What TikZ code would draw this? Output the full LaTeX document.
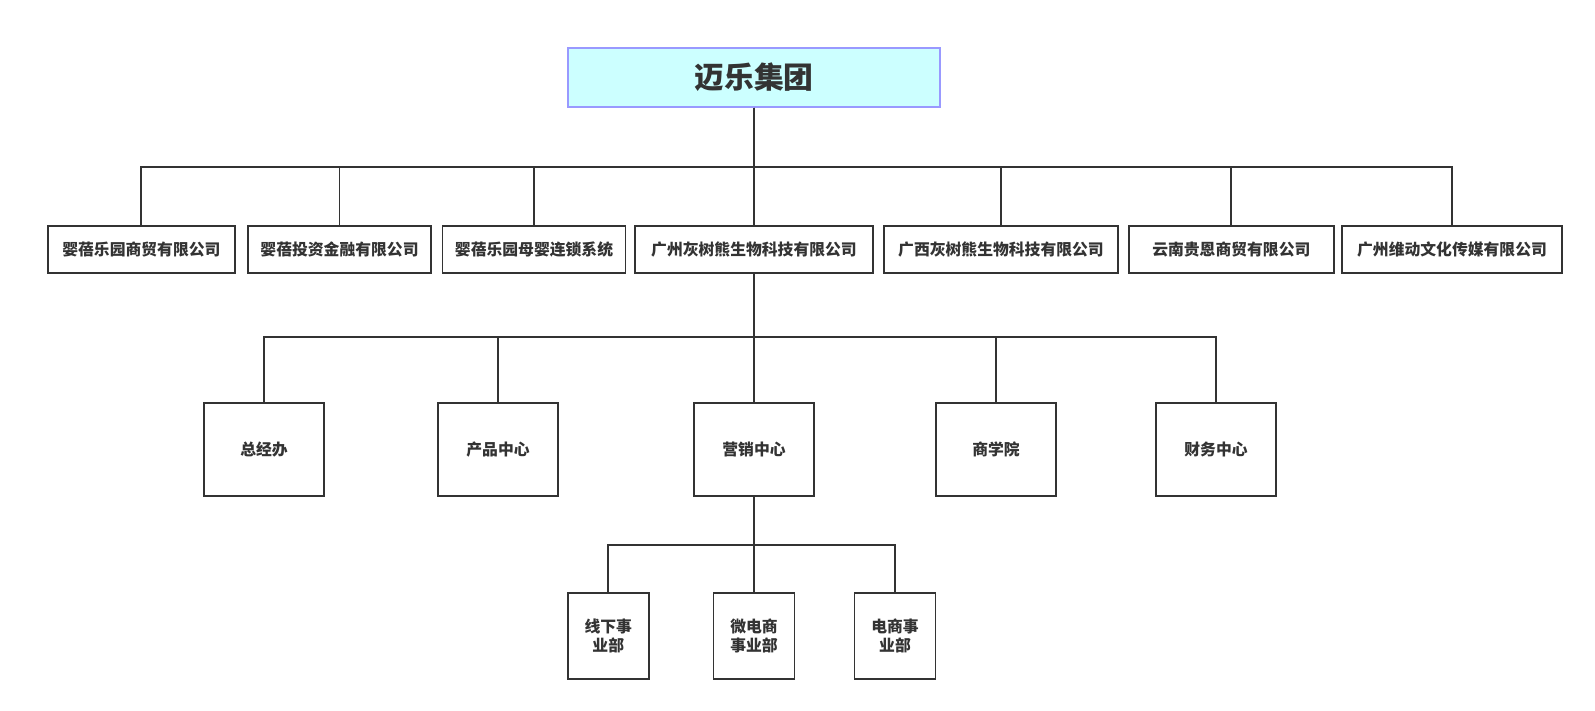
\documentclass[tikz,border=0pt]{standalone}
\usepackage{fontspec}
\newfontfamily\cjk{Noto Sans CJK SC}
\usepackage{xcolor}
\usepackage{tikz}
\usetikzlibrary{positioning, calc}
\definecolor{inkgray}{HTML}{333333}
\definecolor{topfill}{HTML}{CCFFFF}
\definecolor{topline}{HTML}{9999FF}
\tikzset{
  unit/.style={draw=inkgray, line width=1.1pt, fill=white, text=inkgray, align=center,
    font=\cjk\bfseries\fontsize{9}{10.4}\selectfont, inner sep=0pt},
  company/.style={unit, minimum height=0.94cm},
  dept/.style={unit, minimum width=2.4cm, minimum height=1.86cm},
  team/.style={unit, minimum width=1.62cm, minimum height=1.72cm},
  link/.style={draw=inkgray, line width=1.1pt}
}

\begin{document}
\begin{tikzpicture}[x=0.02cm, y=-0.02cm]
        \useasboundingbox (0,0) rectangle (1595,710);

        % Group
        \node[unit, draw=topline, fill=topfill, minimum width=7.44cm, minimum height=1.18cm,
              font=\cjk\bfseries\fontsize{17}{20}\selectfont] (group) at (754,77.5) {迈乐集团};

        % Companies
        \node[company, minimum width=3.74cm] (shangmao) at (141.4,249.5) {婴蓓乐园商贸有限公司};
        \node[company, minimum width=3.66cm] (touzi)    at (339.5,249.5) {婴蓓投资金融有限公司};
        \node[company, minimum width=3.66cm] (liansuo)  at (534,249.5)   {婴蓓乐园母婴连锁系统};
        \node[company, minimum width=4.76cm] (gzhsx)    at (754,249.5)   {广州灰树熊生物科技有限公司};
        \node[company, minimum width=4.68cm] (gxhsx)    at (1001,249.5)  {广西灰树熊生物科技有限公司};
        \node[company, minimum width=4.09cm] (guien)    at (1231.3,249.5){云南贵恩商贸有限公司};
        \node[company, minimum width=4.41cm] (weidong)  at (1452,249.5)  {广州维动文化传媒有限公司};

        % Departments
        \node[dept] (zongjing) at (264,449.5)  {总经办};
        \node[dept] (chanpin)  at (498,449.5)  {产品中心};
        \node[dept] (yingxiao) at (754,449.5)  {营销中心};
        \node[dept] (shangxue) at (996,449.5)  {商学院};
        \node[dept] (caiwu)    at (1216,449.5) {财务中心};

        % Business units
        \node[team] (xianxia)   at (608.3,636) {线下事\\业部};
        \node[team] (weidian)   at (754,636)   {微电商\\事业部};
        \node[team] (dianshang) at (895,636)   {电商事\\业部};

        % Bars
        \coordinate (bar1) at (0,167);
        \coordinate (bar2) at (0,336.7);
        \coordinate (bar3) at (0,545.2);

        % Links
        \foreach \c in {shangmao, touzi, liansuo, gzhsx, gxhsx, guien, weidong}
          \draw[link] (group.south) -- (group.south |- bar1) -| (\c.north);
        \foreach \c in {zongjing, chanpin, yingxiao, shangxue, caiwu}
          \draw[link] (gzhsx.south) -- (gzhsx.south |- bar2) -| (\c.north);
        \foreach \c in {xianxia, weidian, dianshang}
          \draw[link] (yingxiao.south) -- (yingxiao.south |- bar3) -| (\c.north);
    \end{tikzpicture}
\end{document}
